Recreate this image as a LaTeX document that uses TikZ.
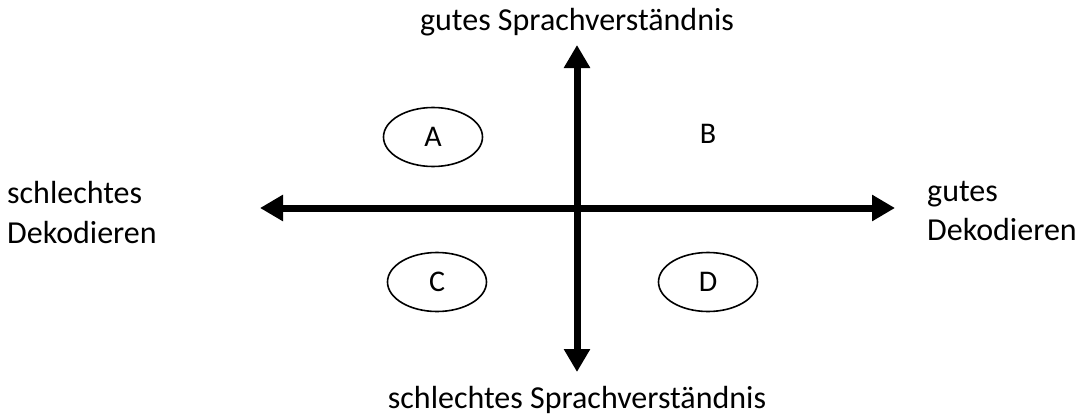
\documentclass[tikz,border=0pt]{standalone}
\usepackage{fontspec}
\setmainfont{Carlito}
\usetikzlibrary{arrows.meta,shapes.geometric}
\begin{document}
\begin{tikzpicture}[x=1pt,y=-1pt,
  axis/.style={line width=7pt,-{Triangle[length=23pt,width=25pt]}},
  oval/.style={draw,ellipse,line width=1.6pt,minimum width=99pt,minimum height=59pt,inner sep=0pt},
  lbl/.style={font=\fontsize{32}{39}\selectfont,inner sep=0pt,anchor=base},
  let/.style={font=\fontsize{30}{36}\selectfont,inner sep=0pt}]
\useasboundingbox (0,0) rectangle (1082,415);
\coordinate (O) at (577,208);
\coordinate (T) at (577,45);
\coordinate (Bt) at (577,372);
\coordinate (L) at (260,208);
\coordinate (R) at (895,208);
\draw[axis] (O) -- (T);
\draw[axis] (O) -- (Bt);
\draw[axis] (O) -- (L);
\draw[axis] (O) -- (R);
\node[oval,let] (A) at (433,137) {A};
\node[let,anchor=base] (B) at (708,143) {B};
\node[oval,let] (C) at (437,282) {C};
\node[oval,let] (D) at (708,282) {D};
\node[lbl] (top) at (577,30) {gutes Sprachverständnis};
\node[lbl] (bot) at (577,408) {schlechtes Sprachverständnis};
\node[lbl,anchor=base west] (left1) at (7,203) {schlechtes};
\node[lbl,anchor=base west] (left2) at (7,243) {Dekodieren};
\node[lbl,anchor=base west] (right1) at (927,201) {gutes};
\node[lbl,anchor=base west] (right2) at (927,240) {Dekodieren};
\end{tikzpicture}
\end{document}
